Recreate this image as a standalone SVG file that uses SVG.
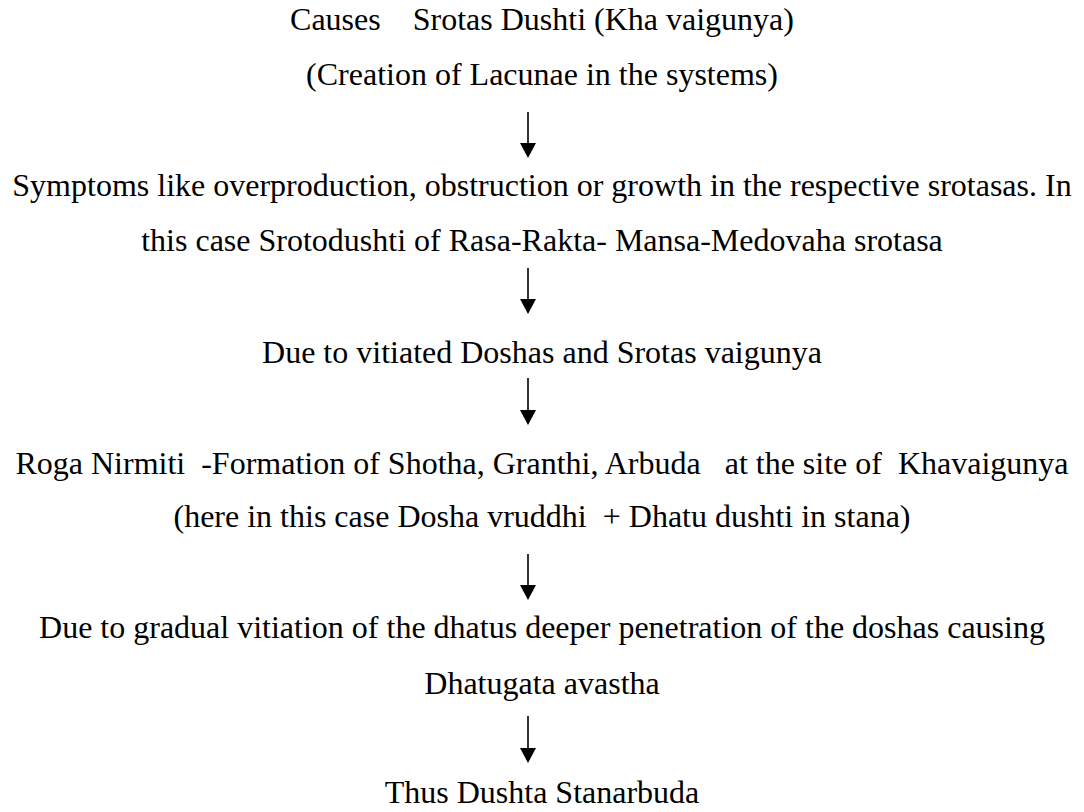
<svg xmlns="http://www.w3.org/2000/svg" width="1084" height="812" viewBox="0 0 1084 812">
<defs>
<style>
.t{font-family:'Liberation Serif','Times New Roman',Tinos,'Noto Serif','DejaVu Serif',serif;font-size:32px;fill:#000;text-anchor:middle;white-space:pre}
.c{stroke:#000;stroke-width:1.6;fill:none}
.h{fill:#000}
</style>
</defs>
<rect width="1084" height="812" fill="#fff"/>
<g class="t" font-family="Liberation Serif, Times New Roman, Tinos, Noto Serif, DejaVu Serif, serif">
<g id="n1"><text xml:space="preserve" x="542" y="30">Causes    Srotas Dushti (Kha vaigunya)</text>
<text xml:space="preserve" x="542" y="85">(Creation of Lacunae in the systems)</text></g>
<g id="n2"><text xml:space="preserve" x="542" y="196">Symptoms like overproduction, obstruction or growth in the respective srotasas. In</text>
<text xml:space="preserve" x="542" y="251">this case Srotodushti of Rasa-Rakta- Mansa-Medovaha srotasa</text></g>
<g id="n3"><text xml:space="preserve" x="542" y="363">Due to vitiated Doshas and Srotas vaigunya</text></g>
<g id="n4"><text xml:space="preserve" x="542" y="474">Roga Nirmiti  -Formation of Shotha, Granthi, Arbuda   at the site of  Khavaigunya</text>
<text xml:space="preserve" x="542" y="527">(here in this case Dosha vruddhi  + Dhatu dushti in stana)</text></g>
<g id="n5"><text xml:space="preserve" x="542" y="638">Due to gradual vitiation of the dhatus deeper penetration of the doshas causing</text>
<text xml:space="preserve" x="542" y="694">Dhatugata avastha</text></g>
<g id="n6"><text xml:space="preserve" x="542" y="803">Thus Dushta Stanarbuda</text></g>
</g>
<g id="connectors">
<path class="c" d="M528,112 V146"/>
<path class="c" d="M528,268 V302"/>
<path class="c" d="M528,378 V413"/>
<path class="c" d="M528,554 V588"/>
<path class="c" d="M528,716 V751"/>
<path class="h" d="M520,143 L536,143 L528,158 Z"/>
<path class="h" d="M520,299 L536,299 L528,314 Z"/>
<path class="h" d="M520,410 L536,410 L528,425 Z"/>
<path class="h" d="M520,585 L536,585 L528,600 Z"/>
<path class="h" d="M520,748 L536,748 L528,763 Z"/>
</g>
</svg>
